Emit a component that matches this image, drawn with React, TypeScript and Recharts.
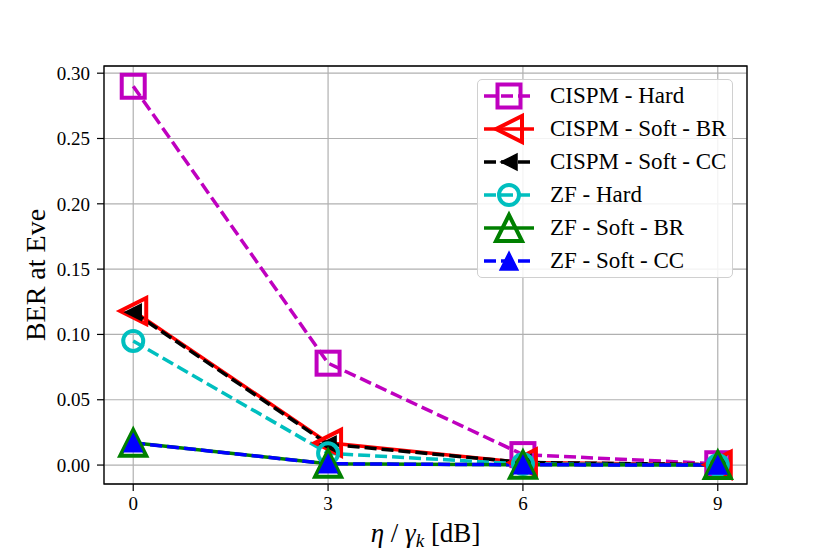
import React from 'react'
import { LineChart, Line, XAxis, YAxis, CartesianGrid, ReferenceArea } from 'recharts'

const snrDb = [0, 3, 6, 9]
const cispmHard = [0.29, 0.078, 0.008, 0.001]
const cispmSoftBR = [0.118, 0.017, 0.002, 0.0003]
const cispmSoftCC = [0.117, 0.016, 0.002, 0.0003]
const zfHard = [0.095, 0.009, 0.0008, 0.0001]
const zfSoftBR = [0.017, 0.001, 0.0002, 0]
const zfSoftCC = [0.017, 0.001, 0.0002, 0]

const xTicks = [0, 3, 6, 9]
const yTicks = [0, 0.05, 0.1, 0.15, 0.2, 0.25, 0.3]
const xDomain = [-0.45, 9.45]
const yDomain = [-0.0145, 0.3055]

type Marker = 'square' | 'left' | 'circle' | 'up'

interface Series {
  key: string
  name: string
  values: number[]
  color: string
  dashed: boolean
  marker: Marker
  size: number
  filled: boolean
}

const series: Series[] = [
  { key: 'cispmHard', name: 'CISPM - Hard', values: cispmHard, color: '#bf00bf', dashed: true, marker: 'square', size: 23, filled: false },
  { key: 'cispmSoftBR', name: 'CISPM - Soft - BR', values: cispmSoftBR, color: '#ff0000', dashed: false, marker: 'left', size: 26, filled: false },
  { key: 'cispmSoftCC', name: 'CISPM - Soft - CC', values: cispmSoftCC, color: '#000000', dashed: true, marker: 'left', size: 16, filled: true },
  { key: 'zfHard', name: 'ZF - Hard', values: zfHard, color: '#00bfbf', dashed: true, marker: 'circle', size: 20, filled: false },
  { key: 'zfSoftBR', name: 'ZF - Soft - BR', values: zfSoftBR, color: '#008000', dashed: false, marker: 'up', size: 26, filled: false },
  { key: 'zfSoftCC', name: 'ZF - Soft - CC', values: zfSoftCC, color: '#0000ff', dashed: true, marker: 'up', size: 18, filled: true },
]

const data = snrDb.map((x, i) => {
  const row: Record<string, number> = { x }
  series.forEach((s) => {
    row[s.key] = s.values[i]
  })
  return row
})

function markerShape(s: Series, cx: number, cy: number, key?: string | number) {
  const h = s.size / 2
  const fill = s.filled ? s.color : 'none'
  const sw = s.filled ? 1.5 : 4
  if (s.marker === 'square') {
    return <rect key={key} x={cx - h} y={cy - h} width={s.size} height={s.size} fill={fill} stroke={s.color} strokeWidth={sw} />
  }
  if (s.marker === 'circle') {
    return <circle key={key} cx={cx} cy={cy} r={h} fill={fill} stroke={s.color} strokeWidth={sw} />
  }
  const pts =
    s.marker === 'left'
      ? `${cx - h},${cy} ${cx + h},${cy - h} ${cx + h},${cy + h}`
      : `${cx},${cy - h} ${cx - h},${cy + h} ${cx + h},${cy + h}`
  return <polygon key={key} points={pts} fill={fill} stroke={s.color} strokeWidth={sw} strokeLinejoin="miter" />
}

function XLabel({ viewBox }: any) {
  const cx = viewBox.x + viewBox.width / 2
  return (
    <text x={cx} y={542} textAnchor="middle" fontSize={27} fill="#000">
      <tspan fontStyle="italic">η</tspan>
      <tspan> / </tspan>
      <tspan fontStyle="italic">γ</tspan>
      <tspan fontStyle="italic" fontSize={19} dy={5}>k</tspan>
      <tspan dy={-5}> [dB]</tspan>
    </text>
  )
}

function YLabel() {
  return (
    <text x={45} y={275} transform="rotate(-90 45 275)" textAnchor="middle" fontSize={28} fill="#000">
      BER at Eve
    </text>
  )
}

function LegendBox() {
  return (
    <div
      style={{
        position: 'absolute',
        left: 477,
        top: 79,
        width: 256,
        height: 199,
        border: '1px solid #d0d0d0',
        borderRadius: 5,
        background: 'rgba(255,255,255,0.85)',
        boxSizing: 'border-box',
      }}
    >
      {series.map((s, i) => (
        <div key={s.key} style={{ position: 'absolute', left: 0, top: i * 33, height: 33, width: '100%' }}>
          <svg width={60} height={33} style={{ position: 'absolute', left: 0, top: 0, overflow: 'visible' }}>
            <line
              x1={6}
              x2={56}
              y1={16}
              y2={16}
              stroke={s.color}
              strokeWidth={3.5}
              strokeDasharray={s.dashed ? '12 5' : undefined}
            />
            {markerShape(s, 31, 16)}
          </svg>
          <span style={{ position: 'absolute', left: 72, top: 2, fontSize: 23, lineHeight: '28px', whiteSpace: 'nowrap' }}>
            {s.name}
          </span>
        </div>
      ))}
    </div>
  )
}

export default function App() {
  return (
    <div style={{ position: 'absolute', left: 0, top: 0, width: 830, height: 554, background: '#fff', fontFamily: '"Liberation Serif", "DejaVu Serif", serif' }}>
      <LineChart width={830} height={554} data={data} margin={{ top: 66, right: 83, bottom: 0, left: 0 }}>
        <CartesianGrid stroke="#b0b0b0" strokeWidth={1.2} />
        <XAxis
          dataKey="x"
          type="number"
          domain={xDomain}
          ticks={xTicks}
          height={70}
          axisLine={false}
          tickLine={{ stroke: '#000', strokeWidth: 1.2 }}
          tickSize={7}
          tickMargin={6}
          tick={{ fill: '#000', fontSize: 19 }}
          label={<XLabel />}
        />
        <YAxis
          type="number"
          domain={yDomain}
          ticks={yTicks}
          width={104}
          axisLine={false}
          tickLine={{ stroke: '#000', strokeWidth: 1.2 }}
          tickSize={7}
          tickMargin={7}
          tick={{ fill: '#000', fontSize: 19 }}
          tickFormatter={(v: number) => v.toFixed(2)}
          label={<YLabel />}
        />
        {series.map((s) => (
          <Line
            key={s.key}
            type="linear"
            dataKey={s.key}
            stroke={s.color}
            strokeWidth={3.5}
            strokeDasharray={s.dashed ? '12 5' : undefined}
            dot={(p: any) => markerShape(s, p.cx, p.cy, `${s.key}-${p.index}`)}
            activeDot={false}
            isAnimationActive={false}
          />
        ))}
        <ReferenceArea
          x1={xDomain[0]}
          x2={xDomain[1]}
          y1={yDomain[0]}
          y2={yDomain[1]}
          fill="none"
          stroke="#000"
          strokeWidth={1.3}
          ifOverflow="visible"
        />
      </LineChart>
      <LegendBox />
    </div>
  )
}
